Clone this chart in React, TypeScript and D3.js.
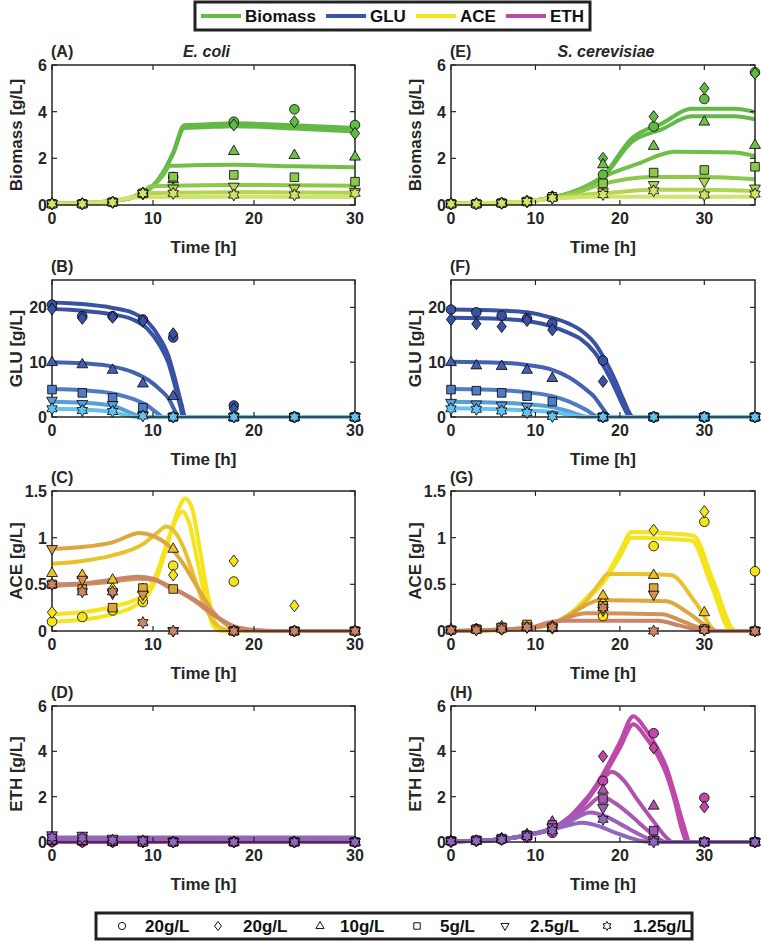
import React from 'react';
import * as d3 from 'd3';

// ---------------- data ----------------
const conditionLabels = ['20g/L', '20g/L', '10g/L', '5g/L', '2.5g/L', '1.25g/L'];
const speciesNames = ['Biomass', 'GLU', 'ACE', 'ETH'];
const speciesColors = ['#66BB46', '#3A54A6', '#F4E41C', '#BA4BA7'];

const timeEC = [0, 3, 6, 9, 12, 18, 24, 30];
const timeSC = [0, 3, 6, 9, 12, 18, 24, 30, 36];
const xTicksEC = [0, 10, 20, 30];
const xTicksSC = [0, 10, 20, 30];

const biomassColors = ['#62B946', '#62B946', '#72BF48', '#8CC84C', '#B0D553', '#D3E26A'];
const gluColors = ['#3A52A3', '#3A52A3', '#4461B0', '#4F7DC5', '#5A9DD8', '#64C2EC'];
const aceColors = ['#F5E41C', '#F5E41C', '#E8C12C', '#DDA63E', '#D39250', '#C9846A'];
const ethColors = ['#BE49A8', '#BE49A8', '#B350AE', '#A758B3', '#9C60B8', '#9067BC'];

// observations (rows: 20 ○, 20 ◇, 10 △, 5 □, 2.5 ▽, 1.25 ✡)
const ecBiomassObs = [
  [0.05, 0.05, 0.12, 0.5, 1.2, 3.57, 4.1, 3.43],
  [0.05, 0.05, 0.12, 0.5, 1.15, 3.43, 3.57, 3.07],
  [0.05, 0.05, 0.12, 0.5, 1.1, 2.31, 2.14, 2.07],
  [0.05, 0.05, 0.12, 0.5, 1.21, 1.29, 1.19, 1.0],
  [0.05, 0.05, 0.12, 0.48, 0.71, 0.79, 0.71, 0.57],
  [0.05, 0.05, 0.12, 0.5, 0.5, 0.43, 0.43, 0.5],
];
const scBiomassObs = [
  [0.05, 0.05, 0.08, 0.15, 0.35, 1.3, 3.36, 4.54, 5.69],
  [0.05, 0.05, 0.08, 0.15, 0.35, 2.0, 3.79, 5.0, 5.64],
  [0.05, 0.05, 0.08, 0.15, 0.35, 1.74, 2.53, 3.57, 2.57],
  [0.05, 0.05, 0.08, 0.15, 0.35, 0.93, 1.39, 1.5, 1.64],
  [0.05, 0.05, 0.08, 0.15, 0.3, 0.55, 0.86, 1.0, 0.71],
  [0.05, 0.05, 0.08, 0.15, 0.3, 0.45, 0.61, 0.43, 0.47],
];
const ecGluObs = [
  [20.5, 18.4, 18.4, 17.8, 14.5, 2.1, 0, 0],
  [19.7, 18.0, 18.2, 17.5, 15.2, 1.5, 0, 0],
  [10, 9.6, 8.6, 6.1, 3.8, 0, 0, 0],
  [5, 4.4, 3.5, 1.7, 0, 0, 0, 0],
  [3, 2.4, 2.2, 0.3, 0, 0, 0, 0],
  [1.5, 1.2, 1.0, 0.2, 0, 0, 0, 0],
];
const scGluObs = [
  [19.6, 19.1, 18.5, 18.0, 17.1, 10.3, 0, 0, 0],
  [17.8, 17.0, 16.5, 17.6, 15.9, 6.5, 0, 0, 0],
  [10.0, 9.4, 9.3, 8.6, 7.1, 0, 0, 0, 0],
  [5.0, 4.8, 4.4, 3.8, 2.8, 0, 0, 0, 0],
  [2.6, 2.3, 2.1, 1.9, 0.3, 0, 0, 0, 0],
  [1.5, 1.4, 1.1, 0.8, 0.1, 0, 0, 0, 0],
];
const ecAceObs = [
  [0.1, 0.15, 0.22, 0.31, 0.7, 0.53, 0, 0],
  [0.2, 0.58, 0.45, 0.35, 0.6, 0.75, 0.27, 0],
  [0.62, 0.6, 0.55, 0.45, 0.88, 0, 0, 0],
  [0.5, 0.45, 0.25, 0.46, 0.45, 0, 0, 0],
  [0.88, 0.55, 0.4, 0.39, 0, 0, 0, 0],
  [0.5, 0.42, 0.42, 0.09, 0, 0, 0, 0],
];
const scAceObs = [
  [0.01, 0.02, 0.02, 0.05, 0.04, 0.16, 0.91, 1.17, 0.64],
  [0.01, 0.02, 0.02, 0.04, 0.05, 0.3, 1.08, 1.28, 0],
  [0.02, 0.02, 0.05, 0.05, 0.03, 0.38, 0.6, 0.2, 0],
  [0.01, 0.02, 0.04, 0.07, 0.04, 0.27, 0.46, 0.02, 0],
  [0.01, 0.02, 0.04, 0.05, 0.03, 0.22, 0.39, 0.01, 0],
  [0.01, 0.01, 0.02, 0.04, 0.04, 0.25, 0.0, 0.01, 0],
];
const ecEthObs = [
  [0, 0, 0, 0, 0, 0, 0, 0],
  [0.02, 0, 0, 0, 0, 0, 0, 0],
  [0.05, 0.02, 0, 0, 0, 0, 0, 0],
  [0.1, 0.08, 0.05, 0, 0, 0, 0, 0],
  [0.3, 0.28, 0.15, 0.1, 0, 0, 0, 0],
  [0.2, 0.18, 0.08, 0.05, 0, 0, 0, 0],
];
const scEthObs = [
  [0.02, 0.05, 0.1, 0.2, 0.4, 2.7, 4.8, 1.95, 0],
  [0.02, 0.05, 0.15, 0.3, 0.8, 3.78, 4.15, 1.55, 0],
  [0.05, 0.05, 0.15, 0.35, 0.9, 2.3, 1.6, 0, 0],
  [0.05, 0.08, 0.15, 0.3, 0.75, 1.9, 0.5, 0, 0],
  [0.05, 0.08, 0.15, 0.3, 0.65, 1.5, 0.1, 0, 0],
  [0.02, 0.05, 0.1, 0.25, 0.5, 1.0, 0, 0, 0],
];

// model fits: [time, value] points
const ecBiomassFit = [
  [[0, 0.05], [3, 0.08], [6, 0.17], [8, 0.33], [9, 0.5], [10, 0.82], [11, 1.4], [12, 2.25], [13.1, 3.42], [15, 3.45], [18, 3.5], [24, 3.42], [30, 3.3]],
  [[0, 0.05], [3, 0.08], [6, 0.17], [8, 0.33], [9, 0.5], [10, 0.82], [11, 1.38], [12, 2.2], [13.1, 3.3], [15, 3.33], [18, 3.38], [24, 3.28], [30, 3.15]],
  [[0, 0.05], [3, 0.08], [6, 0.17], [8, 0.33], [9, 0.5], [10, 0.8], [11, 1.28], [11.7, 1.68], [14, 1.7], [18, 1.72], [24, 1.66], [30, 1.62]],
  [[0, 0.05], [3, 0.08], [6, 0.17], [8, 0.35], [9, 0.55], [9.8, 0.8], [12, 0.83], [18, 0.86], [24, 0.85], [30, 0.83]],
  [[0, 0.05], [3, 0.08], [6, 0.17], [8, 0.35], [8.8, 0.5], [12, 0.53], [18, 0.55], [30, 0.53]],
  [[0, 0.05], [3, 0.08], [6, 0.17], [7.5, 0.3], [9, 0.33], [18, 0.35], [30, 0.34]],
];
const scBiomassFit = [
  [[0, 0.05], [6, 0.08], [9, 0.15], [12, 0.32], [15, 0.65], [18, 1.25], [21.4, 2.85], [25, 3.5], [28.5, 4.12], [33.5, 4.12], [36, 3.98]],
  [[0, 0.05], [6, 0.08], [9, 0.15], [12, 0.32], [15, 0.63], [18, 1.2], [21.4, 2.7], [25, 3.25], [28.5, 3.8], [33.5, 3.8], [36, 3.67]],
  [[0, 0.05], [6, 0.08], [9, 0.15], [12, 0.32], [15, 0.6], [18.3, 1.25], [22, 1.75], [26.5, 2.28], [33.5, 2.25], [36, 2.1]],
  [[0, 0.05], [6, 0.08], [9, 0.15], [12, 0.32], [15, 0.55], [17.5, 0.85], [24, 1.2], [30, 1.2], [36, 1.1]],
  [[0, 0.05], [9, 0.15], [12, 0.3], [15, 0.42], [18, 0.5], [24, 0.65], [30, 0.65], [36, 0.6]],
  [[0, 0.05], [9, 0.15], [12, 0.28], [15, 0.33], [18, 0.35], [36, 0.35]],
];
const ecGluFit = [
  [[0, 20.9], [3, 20.6], [6, 19.9], [8, 19], [9.5, 17.3], [10.7, 14.3], [11.5, 11.3], [12.2, 6.8], [12.8, 2.5], [13.2, 0], [30, 0]],
  [[0, 19.7], [3, 19.4], [6, 18.7], [8, 17.8], [9.5, 16], [10.7, 13], [11.5, 10], [12.2, 5.5], [12.7, 2], [13.0, 0], [30, 0]],
  [[0, 10], [3, 9.8], [6, 9.2], [8, 8.2], [9.5, 6.8], [10.7, 5], [11.6, 3.2], [12.2, 1], [12.5, 0], [30, 0]],
  [[0, 5.1], [3, 4.9], [6, 4.3], [8, 3.3], [9.5, 2], [10.5, 0.6], [11, 0], [30, 0]],
  [[0, 2.8], [3, 2.6], [6, 2.0], [7.5, 1.0], [8.5, 0.2], [9, 0], [30, 0]],
  [[0, 1.5], [3, 1.35], [6, 0.9], [7.5, 0.3], [8.5, 0], [30, 0]],
];
const scGluFit = [
  [[0, 19.6], [6, 19.4], [9, 19.1], [12, 18.1], [14, 17], [15.3, 15.9], [17, 13.5], [18.1, 10.8], [19.5, 6.5], [20.4, 3.2], [21.6, 0], [36, 0]],
  [[0, 18.1], [6, 17.9], [9, 17.5], [12, 16.5], [14, 15.3], [15.3, 14.3], [17, 11.8], [18.1, 9.2], [19.5, 5], [20.4, 2], [21.2, 0], [36, 0]],
  [[0, 10.1], [6, 9.9], [9, 9.5], [12, 8.6], [14, 7.2], [16, 5], [16.9, 3.8], [18, 1.5], [18.9, 0], [36, 0]],
  [[0, 5.1], [6, 4.9], [9, 4.5], [12, 3.8], [14, 2.8], [16, 1.3], [17.5, 0], [36, 0]],
  [[0, 2.8], [6, 2.6], [9, 2.3], [12, 1.8], [14, 1.0], [16.3, 0], [36, 0]],
  [[0, 1.6], [6, 1.4], [9, 1.2], [12, 0.9], [14, 0.4], [15.5, 0], [36, 0]],
];
const ecAceFit = [
  [[0, 0.1], [3, 0.12], [6, 0.18], [9, 0.33], [10.3, 0.55], [11.5, 0.95], [12.5, 1.3], [13.2, 1.42], [13.9, 1.3], [14.6, 0.9], [15.4, 0.4], [16.2, 0.08], [17, 0], [30, 0]],
  [[0, 0.18], [3, 0.2], [6, 0.26], [9, 0.38], [10.3, 0.6], [11.5, 0.98], [12.3, 1.2], [12.9, 1.28], [13.6, 1.15], [14.4, 0.75], [15.3, 0.3], [16, 0.05], [16.7, 0], [30, 0]],
  [[0, 0.72], [3, 0.75], [6, 0.81], [9, 0.93], [10.5, 1.06], [11.3, 1.12], [12, 1.08], [13, 0.9], [14, 0.6], [15, 0.3], [16, 0.1], [17, 0.02], [18, 0], [30, 0]],
  [[0, 0.88], [3, 0.9], [6, 0.95], [8.7, 1.05], [10, 1.02], [11.5, 0.92], [13, 0.72], [14.5, 0.45], [16, 0.2], [17.5, 0.05], [19, 0], [30, 0]],
  [[0, 0.48], [3, 0.5], [6, 0.53], [8.5, 0.56], [10, 0.55], [12, 0.46], [14, 0.33], [16, 0.17], [18, 0.05], [20, 0.01], [22, 0], [30, 0]],
  [[0, 0.5], [3, 0.51], [6, 0.55], [8.5, 0.58], [10, 0.56], [11.7, 0.46], [13, 0.4], [14.6, 0.3], [16.5, 0.14], [18, 0.05], [20, 0.01], [22, 0], [30, 0]],
];
const scAceFit = [
  [[0, 0], [6, 0.01], [9, 0.03], [12, 0.08], [14, 0.18], [16, 0.35], [18.3, 0.58], [20, 0.85], [21.4, 1.06], [25, 1.05], [28.7, 1.02], [31, 0.55], [33.7, 0], [36, 0]],
  [[0, 0], [6, 0.01], [9, 0.03], [12, 0.08], [14, 0.17], [16, 0.33], [18.3, 0.55], [20, 0.8], [21.4, 1.0], [25, 0.99], [28.5, 0.97], [30.8, 0.5], [33.2, 0], [36, 0]],
  [[0, 0], [9, 0.03], [12, 0.08], [14, 0.17], [16, 0.32], [17.5, 0.5], [18.6, 0.61], [22, 0.61], [26, 0.6], [29, 0.3], [31.5, 0], [36, 0]],
  [[0, 0], [9, 0.03], [12, 0.08], [14, 0.17], [16, 0.28], [17.6, 0.33], [25.5, 0.32], [28, 0.2], [30.5, 0.04], [31.5, 0], [36, 0]],
  [[0, 0], [9, 0.03], [12, 0.08], [14, 0.15], [15.9, 0.19], [25, 0.18], [27.5, 0.1], [30, 0.02], [31, 0], [36, 0]],
  [[0, 0], [9, 0.03], [12, 0.1], [13.5, 0.11], [24.5, 0.11], [27, 0.06], [29.5, 0.01], [30.5, 0], [36, 0]],
];
const ecEthFit = [
  [[0, 0], [30, 0]],
  [[0, 0.01], [30, 0.01]],
  [[0, 0.05], [30, 0.05]],
  [[0, 0.1], [30, 0.1]],
  [[0, 0.15], [30, 0.15]],
  [[0, 0.2], [30, 0.2]],
];
const scEthFit = [
  [[0, 0.02], [3, 0.05], [6, 0.12], [9, 0.3], [12, 0.6], [15, 1.4], [18, 3.0], [20, 4.4], [21.6, 5.55], [23, 5.0], [24.5, 4.1], [25.5, 3.3], [26.5, 2.1], [27.5, 0.8], [28.3, 0], [36, 0]],
  [[0, 0.02], [3, 0.05], [6, 0.12], [9, 0.3], [12, 0.6], [15, 1.35], [18, 2.85], [20, 4.15], [21.6, 5.2], [23, 4.65], [24.5, 3.8], [25.5, 3.0], [26.5, 1.8], [27.3, 0.6], [28, 0], [36, 0]],
  [[0, 0.02], [6, 0.12], [9, 0.3], [12, 0.6], [14, 1.1], [16, 1.9], [18, 2.75], [19, 3.1], [20.5, 2.7], [22, 1.9], [24, 0.9], [25.5, 0.2], [26.3, 0], [36, 0]],
  [[0, 0.02], [6, 0.12], [9, 0.3], [12, 0.6], [14, 1.0], [16, 1.5], [17.8, 2.0], [19.5, 1.7], [21.5, 1.1], [23.5, 0.45], [25, 0.05], [25.5, 0], [36, 0]],
  [[0, 0.02], [6, 0.12], [9, 0.3], [12, 0.6], [14, 0.9], [16.5, 1.3], [18.5, 1.1], [20.5, 0.7], [22.5, 0.3], [24, 0.05], [24.7, 0], [36, 0]],
  [[0, 0.02], [6, 0.12], [9, 0.3], [12, 0.55], [14, 0.75], [15.5, 0.85], [17.5, 0.7], [19.5, 0.4], [21.5, 0.15], [23, 0.02], [24, 0], [36, 0]],
];

// ---------------- rendering ----------------
const FONT = '"Liberation Sans", Arial, Helvetica, sans-serif';
const AX = '#262626';

function markerPath(k: number, s = 1): string {
  const p = d3.path();
  if (k === 0) {
    p.arc(0, 0, 4.8 * s, 0, Math.PI * 2);
    p.closePath();
    return p.toString();
  }
  if (k === 1) return `M0,${-6 * s}L${4.6 * s},0L0,${6 * s}L${-4.6 * s},0Z`;
  if (k === 2) return `M0,${-6 * s}L${5.4 * s},${3.4 * s}L${-5.4 * s},${3.4 * s}Z`;
  if (k === 3) return `M${-4.3 * s},${-4.3 * s}H${4.3 * s}V${4.3 * s}H${-4.3 * s}Z`;
  if (k === 4) return `M0,${6 * s}L${5.4 * s},${-3.4 * s}L${-5.4 * s},${-3.4 * s}Z`;
  const R = 6 * s;
  const r = R / Math.sqrt(3);
  const pts: string[] = [];
  for (let i = 0; i < 12; i++) {
    const a = (-90 + i * 30) * Math.PI / 180;
    const rr = i % 2 === 0 ? R : r;
    pts.push(`${(rr * Math.cos(a)).toFixed(2)},${(rr * Math.sin(a)).toFixed(2)}`);
  }
  return 'M' + pts.join('L') + 'Z';
}

interface PanelProps {
  id: string;
  left: number; right: number; top: number; bottom: number;
  xMax: number; yMax: number;
  xTicks: number[]; yTicks: number[];
  fits: number[][][]; obs: number[][]; times: number[];
  colors: string[];
  ylabel: string; label: string; title?: string;
}

function Panel(p: PanelProps) {
  const x = d3.scaleLinear().domain([0, p.xMax]).range([p.left, p.right]);
  const y = d3.scaleLinear().domain([0, p.yMax]).range([p.bottom, p.top]);
  const line = d3.line<number[]>().x(d => x(d[0])).y(d => y(d[1])).curve(d3.curveMonotoneX);
  const tl = 5;
  const cx = (p.left + p.right) / 2;
  return (
    <g>
      <defs>
        <clipPath id={`clip-${p.id}`}>
          <rect x={p.left} y={p.top - 3} width={p.right - p.left} height={p.bottom - p.top + 6} />
        </clipPath>
      </defs>
      <g clipPath={`url(#clip-${p.id})`}>
        {p.fits.map((f, i) => (
          <path key={i} d={line(f) || ''} fill="none" stroke={p.colors[i]} strokeWidth={4} strokeLinejoin="round" />
        ))}
      </g>
      {/* frame */}
      <rect x={p.left} y={p.top} width={p.right - p.left} height={p.bottom - p.top} fill="none" stroke={AX} strokeWidth={1.5} />
      {p.xTicks.map(t => (
        <g key={'x' + t}>
          <line x1={x(t)} x2={x(t)} y1={p.bottom} y2={p.bottom - tl} stroke={AX} strokeWidth={1.2} />
          <line x1={x(t)} x2={x(t)} y1={p.top} y2={p.top + tl} stroke={AX} strokeWidth={1.2} />
          <text x={x(t)} y={p.bottom + 19} textAnchor="middle" fontFamily={FONT} fontWeight="bold" fontSize={16} fill={AX}>{t}</text>
        </g>
      ))}
      {p.yTicks.map(t => (
        <g key={'y' + t}>
          <line x1={p.left} x2={p.left + tl} y1={y(t)} y2={y(t)} stroke={AX} strokeWidth={1.2} />
          <line x1={p.right} x2={p.right - tl} y1={y(t)} y2={y(t)} stroke={AX} strokeWidth={1.2} />
          <text x={p.left - 5} y={y(t) + 6} textAnchor="end" fontFamily={FONT} fontWeight="bold" fontSize={16} fill={AX}>{t}</text>
        </g>
      ))}
      {/* markers */}
      {p.obs.map((row, i) => row.map((v, j) => (
        <path key={`m${i}-${j}`} d={markerPath(i)} transform={`translate(${x(p.times[j])},${y(v)})`}
          fill={p.colors[i]} stroke="#000" strokeWidth={0.8} />
      )))}
      <text x={cx} y={p.bottom + 48} textAnchor="middle" fontFamily={FONT} fontWeight="bold" fontSize={17} fill={AX}>Time [h]</text>
      <text transform={`translate(${p.left - 30},${(p.top + p.bottom) / 2}) rotate(-90)`} textAnchor="middle" fontFamily={FONT} fontWeight="bold" fontSize={17} fill={AX}>{p.ylabel}</text>
      <text x={p.left - 1} y={p.top - 8} fontFamily={FONT} fontWeight="bold" fontSize={16} fill={AX}>{p.label}</text>
      {p.title && (
        <text x={cx + 3} y={p.top - 8} textAnchor="middle" fontFamily={FONT} fontWeight="bold" fontStyle="italic" fontSize={16} fill={AX}>{p.title}</text>
      )}
    </g>
  );
}

const LEFT = [52, 355];
const RIGHT = [451, 755];
const TOPS = [65, 280, 491, 706];
const BOTTOMS = [205, 417, 631, 842];

export default function App() {
  const rowsEC = [
    { fits: ecBiomassFit, obs: ecBiomassObs, colors: biomassColors, yMax: 6, yTicks: [0, 2, 4, 6], ylabel: 'Biomass [g/L]', label: '(A)' },
    { fits: ecGluFit, obs: ecGluObs, colors: gluColors, yMax: 25, yTicks: [0, 10, 20], ylabel: 'GLU [g/L]', label: '(B)' },
    { fits: ecAceFit, obs: ecAceObs, colors: aceColors, yMax: 1.5, yTicks: [0, 0.5, 1, 1.5], ylabel: 'ACE [g/L]', label: '(C)' },
    { fits: ecEthFit, obs: ecEthObs, colors: ethColors, yMax: 6, yTicks: [0, 2, 4, 6], ylabel: 'ETH [g/L]', label: '(D)' },
  ];
  const rowsSC = [
    { fits: scBiomassFit, obs: scBiomassObs, colors: biomassColors, yMax: 6, yTicks: [0, 2, 4, 6], ylabel: 'Biomass [g/L]', label: '(E)' },
    { fits: scGluFit, obs: scGluObs, colors: gluColors, yMax: 25, yTicks: [0, 10, 20], ylabel: 'GLU [g/L]', label: '(F)' },
    { fits: scAceFit, obs: scAceObs, colors: aceColors, yMax: 1.5, yTicks: [0, 0.5, 1, 1.5], ylabel: 'ACE [g/L]', label: '(G)' },
    { fits: scEthFit, obs: scEthObs, colors: ethColors, yMax: 6, yTicks: [0, 2, 4, 6], ylabel: 'ETH [g/L]', label: '(H)' },
  ];

  // top legend layout
  const topLegX = [201, 326, 416, 506];
  const botMarkX = [122, 218, 320, 417, 505, 607];
  const botTextX = [145, 243, 340, 440, 530, 633];

  return (
    <svg width={762} height={942} style={{ position: 'absolute', left: 0, top: 0, background: '#fff' }}>
      <rect x={0} y={0} width={762} height={942} fill="#fff" />
      {rowsEC.map((r, i) => (
        <Panel key={'ec' + i} id={'ec' + i} left={LEFT[0]} right={LEFT[1]} top={TOPS[i]} bottom={BOTTOMS[i]}
          xMax={30} yMax={r.yMax} xTicks={xTicksEC} yTicks={r.yTicks} fits={r.fits} obs={r.obs} times={timeEC}
          colors={r.colors} ylabel={r.ylabel} label={r.label} title={i === 0 ? 'E. coli' : undefined} />
      ))}
      {rowsSC.map((r, i) => (
        <Panel key={'sc' + i} id={'sc' + i} left={RIGHT[0]} right={RIGHT[1]} top={TOPS[i]} bottom={BOTTOMS[i]}
          xMax={36} yMax={r.yMax} xTicks={xTicksSC} yTicks={r.yTicks} fits={r.fits} obs={r.obs} times={timeSC}
          colors={r.colors} ylabel={r.ylabel} label={r.label} title={i === 0 ? 'S. cerevisiae' : undefined} />
      ))}
      {/* top legend */}
      <rect x={195} y={2} width={395} height={28} fill="#fff" stroke="#222" strokeWidth={3} />
      {speciesNames.map((n, i) => (
        <g key={n}>
          <line x1={topLegX[i]} x2={topLegX[i] + 40} y1={16} y2={16} stroke={speciesColors[i]} strokeWidth={4} />
          <text x={topLegX[i] + 44} y={22} fontFamily={FONT} fontWeight="bold" fontSize={17} fill="#111">{n}</text>
        </g>
      ))}
      {/* bottom legend */}
      <rect x={96} y={913} width={596} height={26} fill="#fff" stroke="#222" strokeWidth={3} />
      {conditionLabels.map((c, i) => (
        <g key={'b' + i}>
          <path d={markerPath(i, 0.75)} transform={`translate(${botMarkX[i]},926)`} fill="none" stroke="#111" strokeWidth={1} />
          <text x={botTextX[i]} y={932} fontFamily={FONT} fontWeight="bold" fontSize={17} fill="#111">{c}</text>
        </g>
      ))}
    </svg>
  );
}
